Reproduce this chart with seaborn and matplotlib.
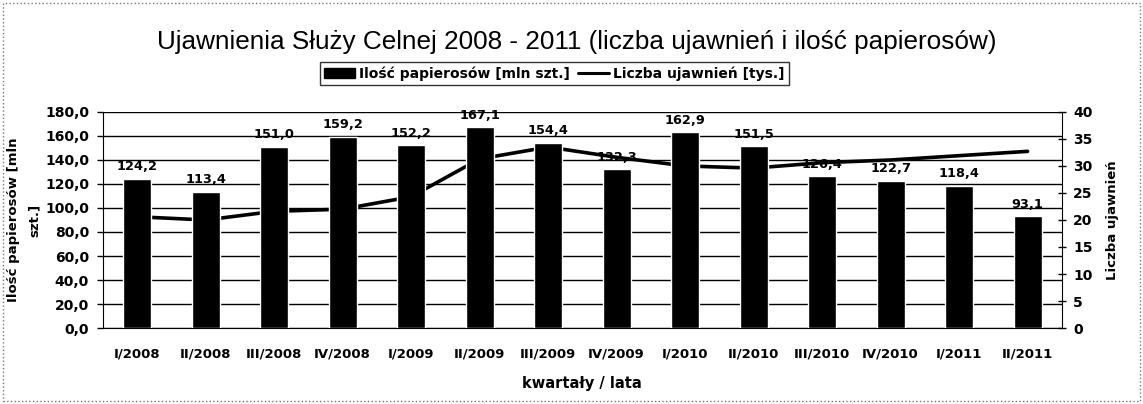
import matplotlib
matplotlib.use("Agg")
import matplotlib.pyplot as plt
import matplotlib.patches as mpatches
from matplotlib.lines import Line2D
from matplotlib.ticker import FuncFormatter, MultipleLocator
import numpy as np
import pandas as pd
import seaborn as sns

## Data ##
quarters = ["I/2008", "II/2008", "III/2008", "IV/2008",
            "I/2009", "II/2009", "III/2009", "IV/2009",
            "I/2010", "II/2010", "III/2010", "IV/2010",
            "I/2011", "II/2011"]
cigarettes = [124.2, 113.4, 151.0, 159.2, 152.2, 167.1, 154.4,
              132.3, 162.9, 151.5, 126.4, 122.7, 118.4, 93.1]
seizures = [20.6, 20.0, 21.6, 22.0, 24.3, 31.3, 33.5,
            31.6, 30.0, 29.6, 30.6, 31.1, 31.9, 32.7]

title = "Ujawnienia Służy Celnej 2008 - 2011 (liczba ujawnień i ilość papierosów)"
bar_name = "Ilość papierosów [mln szt.]"
line_name = "Liczba ujawnień [tys.]"

df = pd.DataFrame({"kwartal": quarters, "papierosy": cigarettes, "ujawnienia": seizures})

sns.set_style("white")
plt.rcParams["font.family"] = ["DejaVu Sans"]
plt.rcParams["font.weight"] = "bold"
plt.rcParams["axes.labelweight"] = "bold"
for k in ["text.color", "axes.labelcolor", "xtick.color", "ytick.color"]:
    plt.rcParams[k] = "black"

fig = plt.figure(figsize=(11.43, 4.04), dpi=100)
ax = fig.add_axes([0.090, 0.188, 0.839, 0.535])
ax2 = ax.twinx()

# line sits behind the bars, like in the original
ax.set_zorder(2)
ax2.set_zorder(1)
ax.patch.set_visible(False)
ax2.set_facecolor("#d4d4d4")

#===============
# Bars
#===============
sns.barplot(data=df, x="kwartal", y="papierosy", color="black", saturation=1,
            width=0.41, ax=ax, zorder=3)
for p, v in zip(ax.patches, cigarettes):
    ax.annotate("{:.1f}".format(v).replace(".", ","),
                (p.get_x() + p.get_width() / 2, p.get_height()),
                xytext=(0, 4), textcoords="offset points",
                ha="center", va="bottom", fontsize=9.3, fontweight="bold")

#===============
# Line
#===============
sns.lineplot(x=np.arange(len(quarters)), y=df["ujawnienia"], color="black",
             lw=2.6, ax=ax2, legend=False)

ax.set_xlim(-0.5, len(quarters) - 0.5)
ax.set_ylim(0, 180)
ax2.set_ylim(0, 40)
ax.yaxis.set_major_locator(MultipleLocator(20))
ax2.yaxis.set_major_locator(MultipleLocator(5))
ax.yaxis.set_major_formatter(FuncFormatter(lambda v, p: "{:.1f}".format(v).replace(".", ",")))

ax.grid(axis="y", color="black", lw=1.0)
ax.set_axisbelow(True)
ax2.grid(False)

# x ticks between categories
ax.set_xticks(np.arange(len(quarters)))
ax.set_xticklabels(quarters, fontsize=9.5)
ax.set_xticks(np.arange(len(quarters) + 1) - 0.5, minor=True)
ax.tick_params(axis="x", which="major", length=0, pad=14)
ax.tick_params(axis="x", which="minor", length=4, direction="out", color="black", width=1)
ax.tick_params(axis="y", length=4, direction="out", color="black", width=1, labelsize=10, pad=6)
ax2.tick_params(axis="y", length=6, direction="inout", color="black", width=1, labelsize=10, pad=5)

for s in ax.spines.values():
    s.set_visible(False)
for s in ["top", "right"]:
    ax2.spines[s].set_visible(False)
ax2.spines["left"].set_color("black")
ax2.spines["bottom"].set_color("black")
ax2.spines["right"].set_visible(True)
ax2.spines["right"].set_color("black")
ax2.spines["right"].set_linestyle((0, (2, 1)))

ax.set_xlabel("kwartały / lata", fontsize=10.5, labelpad=11)
ax.set_ylabel("Ilość papierosów [mln\nszt.]", fontsize=9.5, labelpad=3, linespacing=1.75)
ax2.set_ylabel("Liczba ujawnień", fontsize=9.5, labelpad=10)

fig.suptitle(title, x=0.505, y=0.925, fontsize=18.8, fontweight="normal",
             family=["Liberation Sans", "DejaVu Sans"])

handles = [mpatches.Patch(facecolor="black", edgecolor="black"),
           Line2D([], [], color="black", lw=2.2)]
leg = fig.legend(handles, [bar_name, line_name], loc="center", ncol=2,
                 bbox_to_anchor=(0.485, 0.818), fontsize=10, frameon=True,
                 fancybox=False, handlelength=2.2, handletextpad=0.3,
                 columnspacing=0.6, borderpad=0.3)
leg.get_frame().set_edgecolor("black")
leg.get_frame().set_linewidth(1.0)

# dotted frame round the whole chart
fig.patches.append(mpatches.Rectangle((0.003, 0.008), 0.994, 0.985, transform=fig.transFigure,
                                      fill=False, edgecolor="#777777", lw=1, ls=":"))

plt.savefig("out.png", dpi=100)
